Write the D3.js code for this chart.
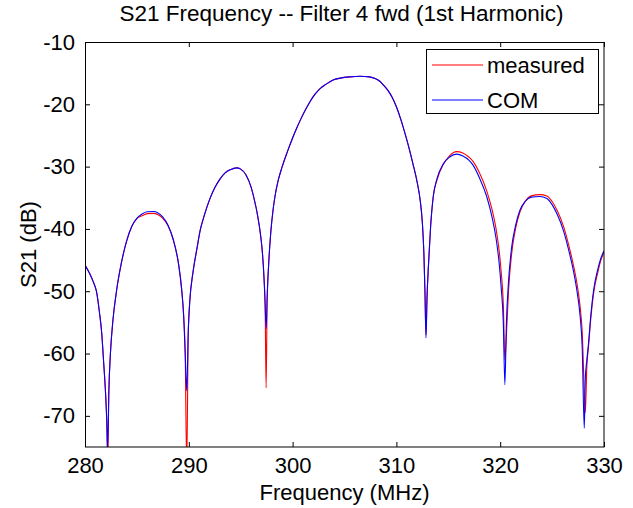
<!DOCTYPE html>
<html>
<head>
<meta charset="utf-8">
<script src="https://cdn.jsdelivr.net/npm/d3@7"></script>
<style>
  html, body { margin: 0; padding: 0; background: #fff; }
  svg { display: block; }
  text { font-family: "Liberation Sans", Arial, Helvetica, sans-serif; fill: #000; }
</style>
</head>
<body>
<svg id="chart" width="633" height="508"></svg>
<script>
// ---------------- data ----------------
const title = "S21 Frequency -- Filter 4 fwd (1st Harmonic)";
const xLabel = "Frequency (MHz)";
const yLabel = "S21 (dB)";
const seriesNames = ["measured", "COM"];
const xTicks = [280, 290, 300, 310, 320, 330];
const yTicks = [-70, -60, -50, -40, -30, -20, -10];
const xDomain = [280, 330];
const yDomain = [-75, -10];

const freq = [
  280.0, 280.4, 280.8, 281.1, 281.4, 281.6, 281.8, 282.0, 282.1, 282.18,
  282.3, 282.45, 282.7, 283.05, 283.5, 284.0, 284.5, 285.0, 285.5, 286.0,
  286.6, 287.0, 287.5, 288.0, 288.5, 289.0, 289.3, 289.5, 289.65, 289.8,
  289.95, 290.1, 290.4, 290.8, 291.1, 291.5, 292.0, 292.5, 293.0, 293.5,
  294.0, 294.6, 295.0, 295.5, 296.0, 296.3, 296.6, 296.9, 297.1, 297.25,
  297.35, 297.45, 297.55, 297.7, 297.9, 298.1, 298.3, 298.6, 299.0, 299.5,
  300.0, 300.4, 300.7, 301.2, 301.7, 302.2, 302.7, 303.2, 303.9, 304.6,
  305.5, 306.5, 307.4, 308.0, 308.4, 308.8, 309.2, 309.6, 310.0, 310.4,
  310.8, 311.2, 311.6, 312.0, 312.3, 312.5, 312.65, 312.75, 312.85, 312.95,
  313.1, 313.3, 313.55, 313.9, 314.5, 315.1, 315.8, 316.4, 317.0, 317.4,
  318.0, 318.7, 319.2, 319.6, 319.9, 320.1, 320.3, 320.45, 320.6, 320.8,
  321.1, 321.5, 321.9, 322.4, 323.0, 323.8, 324.5, 325.0, 325.5, 326.1,
  326.6, 327.0, 327.4, 327.7, 327.9, 328.1, 328.2, 328.35, 328.5, 328.75,
  329.0, 329.4, 329.7, 330.0
];

const measured = [
  -45.8, -47.0, -48.5, -50.0, -53.5, -56.5, -61.5, -67.0, -71.0, -78.0,
  -66.0, -60.0, -54.5, -49.8, -45.5, -42.0, -39.6, -38.3, -37.9, -37.55,
  -37.5, -37.7, -38.3, -39.5, -41.7, -45.5, -49.5, -53.8, -59.8, -78.0,
  -56.4, -51.5, -47.0, -43.0, -40.2, -37.8, -35.3, -33.4, -32.0, -31.0,
  -30.5, -30.2, -30.4, -31.3, -33.3, -35.2, -37.6, -40.8, -44.0, -48.0,
  -52.0, -65.5, -51.0, -45.5, -40.5, -37.2, -34.8, -32.3, -30.0, -27.6,
  -25.4, -23.8, -22.7, -21.0, -19.5, -18.3, -17.4, -16.8, -16.1, -15.8,
  -15.6, -15.5, -15.6, -15.9, -16.3, -17.0, -17.8, -18.9, -20.4, -22.3,
  -24.5, -26.9, -29.6, -32.5, -35.5, -39.0, -44.0, -50.0, -57.0, -51.0,
  -45.5, -39.5, -34.8, -32.2, -29.7, -28.3, -27.6, -27.8, -28.5, -29.2,
  -31.0, -33.9, -36.8, -40.0, -43.5, -47.0, -52.0, -61.0, -57.0, -50.0,
  -44.0, -39.8, -37.3, -35.6, -34.7, -34.5, -34.7, -35.6, -37.1, -39.6,
  -42.6, -45.4, -48.8, -52.5, -56.5, -66.0, -69.5, -62.0, -59.0, -54.0,
  -50.3, -47.0, -45.0, -43.8
];

const com = [
  -45.8, -47.0, -48.5, -50.0, -53.5, -56.5, -61.5, -67.0, -71.0, -75.5,
  -66.0, -60.0, -54.5, -49.8, -45.5, -42.0, -39.6, -38.3, -37.6, -37.25,
  -37.2, -37.4, -38.1, -39.4, -41.7, -45.5, -49.5, -53.8, -59.8, -66.0,
  -56.4, -51.5, -47.0, -43.0, -40.2, -37.8, -35.3, -33.4, -32.0, -31.0,
  -30.5, -30.2, -30.4, -31.3, -33.3, -35.2, -37.6, -40.8, -44.0, -48.0,
  -52.0, -56.0, -51.0, -45.5, -40.5, -37.2, -34.8, -32.3, -30.0, -27.6,
  -25.4, -23.8, -22.7, -21.0, -19.5, -18.3, -17.4, -16.8, -16.1, -15.8,
  -15.6, -15.5, -15.6, -15.9, -16.3, -17.0, -17.8, -18.9, -20.4, -22.3,
  -24.5, -26.9, -29.6, -32.5, -35.5, -39.0, -44.0, -50.0, -57.5, -51.0,
  -45.5, -39.5, -34.8, -32.0, -29.6, -28.5, -28.0, -28.3, -29.0, -29.8,
  -31.8, -34.8, -38.0, -41.5, -45.5, -49.5, -55.0, -65.0, -55.0, -48.5,
  -43.0, -39.3, -37.0, -35.6, -34.9, -34.8, -35.1, -36.1, -37.7, -40.3,
  -43.4, -46.3, -50.0, -54.0, -59.0, -72.0, -64.0, -61.0, -58.5, -53.5,
  -49.8, -46.5, -44.7, -43.5
];

const seriesColors = ["#ff0000", "#0000ff"];

// ---------------- layout ----------------
const W = 633, H = 508;
const margin = { left: 85, top: 42, right: 29, bottom: 61 };
const iw = W - margin.left - margin.right;
const ih = H - margin.top - margin.bottom;
const fontSize = 22;

const svg = d3.select("#chart");
svg.append("rect").attr("width", W).attr("height", H).attr("fill", "#fff");

const x = d3.scaleLinear().domain(xDomain).range([0, iw]);
const y = d3.scaleLinear().domain(yDomain).range([ih, 0]);

const g = svg.append("g").attr("transform", `translate(${margin.left},${margin.top})`);

g.append("rect").attr("width", iw).attr("height", ih).attr("fill", "#fff");

g.append("clipPath").attr("id", "plotclip")
  .append("rect").attr("x", 0).attr("y", 0).attr("width", iw).attr("height", ih);

// data lines
const seriesData = [measured, com];
const line = d3.line()
  .x((d, i) => x(freq[i]))
  .y(d => y(d))
  .curve(d3.curveMonotoneX);

const plot = g.append("g").attr("clip-path", "url(#plotclip)");
seriesData.forEach((vals, k) => {
  plot.append("path")
    .datum(vals)
    .attr("fill", "none")
    .attr("stroke", seriesColors[k])
    .attr("stroke-width", 1.1)
    .attr("stroke-linejoin", "round")
    .attr("d", line);
});

// axes (MATLAB style: box with inward ticks on all sides)
const tickLen = 5;
const fmt = d => String(d); // plain hyphen-minus like the reference
const bottomAxis = d3.axisBottom(x).tickValues(xTicks).tickSizeInner(-tickLen).tickSizeOuter(0).tickPadding(10).tickFormat(fmt);
const topAxis = d3.axisTop(x).tickValues(xTicks).tickSizeInner(-tickLen).tickSizeOuter(0).tickFormat("");
const leftAxis = d3.axisLeft(y).tickValues(yTicks).tickSizeInner(-tickLen).tickSizeOuter(0).tickPadding(10).tickFormat(fmt);
const rightAxis = d3.axisRight(y).tickValues(yTicks).tickSizeInner(-tickLen).tickSizeOuter(0).tickFormat("");

function styleAxis(sel) {
  sel.select(".domain").remove();
  sel.selectAll(".tick line").attr("stroke", "#000").attr("stroke-width", 1);
  sel.selectAll(".tick text")
    .style("font-family", '"Liberation Sans", Arial, sans-serif')
    .style("font-size", fontSize + "px")
    .attr("fill", "#000");
}

g.append("g").attr("transform", `translate(0,${ih})`).call(bottomAxis).call(styleAxis)
  .selectAll(".tick text").attr("dy", "0.71em");
g.append("g").call(topAxis).call(styleAxis);
g.append("g").call(leftAxis).call(styleAxis);
g.append("g").attr("transform", `translate(${iw},0)`).call(rightAxis).call(styleAxis);

// box
g.append("rect")
  .attr("x", 0.5).attr("y", 0.5)
  .attr("width", iw - 0.5).attr("height", ih - 0.5)
  .attr("fill", "none").attr("stroke", "#000").attr("stroke-width", 1);

// title and axis labels
svg.append("text")
  .attr("x", margin.left + iw / 2 - 3).attr("y", 21)
  .attr("text-anchor", "middle")
  .style("font-size", "22.5px")
  .text(title);

svg.append("text")
  .attr("x", margin.left + iw / 2).attr("y", 500)
  .attr("text-anchor", "middle")
  .style("font-size", fontSize + "px")
  .text(xLabel);

svg.append("text")
  .attr("transform", `translate(36,${margin.top + ih / 2}) rotate(-90)`)
  .attr("text-anchor", "middle")
  .style("font-size", fontSize + "px")
  .text(yLabel);

// legend
const legX = 426, legY = 49, legW = 172, legH = 64;
const leg = svg.append("g");
leg.append("rect")
  .attr("x", legX + 0.5).attr("y", legY + 0.5)
  .attr("width", legW).attr("height", legH)
  .attr("fill", "#fff").attr("stroke", "#000").attr("stroke-width", 1);
const legRowY = [65, 100];
seriesNames.forEach((name, k) => {
  leg.append("line")
    .attr("x1", 432).attr("x2", 483)
    .attr("y1", legRowY[k]).attr("y2", legRowY[k])
    .attr("stroke", seriesColors[k]).attr("stroke-width", 1.1);
  leg.append("text")
    .attr("x", 487).attr("y", legRowY[k] + 8)
    .style("font-size", fontSize + "px")
    .text(name);
});
</script>
</body>
</html>
